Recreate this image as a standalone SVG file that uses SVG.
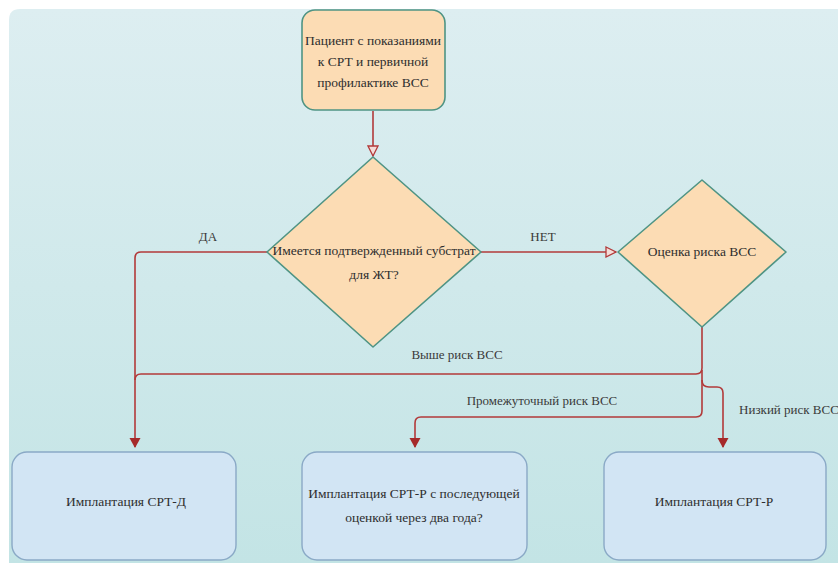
<svg xmlns="http://www.w3.org/2000/svg" width="838" height="563" viewBox="0 0 838 563" font-family="'Liberation Serif', 'Times New Roman', serif">
<defs>
<linearGradient id="bg" x1="0" y1="0" x2="0" y2="1">
<stop offset="0" stop-color="#ddeef1"/>
<stop offset="1" stop-color="#c3e4e5"/>
</linearGradient>
<marker id="open" viewBox="0 0 12 12" refX="11" refY="6" markerWidth="12" markerHeight="12" markerUnits="userSpaceOnUse" orient="auto">
<path d="M1,1 L11,6 L1,11 Z" fill="#f4dcd8" stroke="#b23a3a" stroke-width="1.3"/>
</marker>
<marker id="fill" viewBox="0 0 10 12" refX="9" refY="6" markerWidth="10" markerHeight="12" markerUnits="userSpaceOnUse" orient="auto">
<path d="M0,0.5 L10,6 L0,11.5 Z" fill="#a52a2a"/>
</marker>
</defs>
<style>
text{font-family:'Liberation Serif','Times New Roman',serif}
.t{font-size:13.5px;fill:#2e2e2e;text-anchor:middle}
.l{font-size:13px;fill:#3a3a3a;text-anchor:middle}
.peach{fill:#fcdcb4;stroke:#4f9484;stroke-width:1.6}
.blue{fill:#d2e5f4;stroke:#8aa9c6;stroke-width:1.4}
.c{fill:none;stroke:#b23a3a;stroke-width:1.6}
</style>
<rect x="0" y="0" width="838" height="563" fill="#ffffff"/>
<path d="M20,9 H838 V563 H9 V20 Q9,9 20,9 Z" fill="url(#bg)"/>

<g id="connectors">
<path class="c" d="M373,111 V156" marker-end="url(#open)"/>
<path class="c" d="M267,252 H141 Q135,252 135,258 V447" marker-end="url(#fill)"/>
<path class="c" d="M481,252 H616" marker-end="url(#open)"/>
<path class="c" d="M702,327 V368 Q702,374 696,374 H141 Q135,374 135,380"/>
<path class="c" d="M702,370 V411 Q702,417 696,417 H421 Q415,417 415,423 V447" marker-end="url(#fill)"/>
<path class="c" d="M702,380 Q702,387 709,387 H717 Q723,387 723,393 V447" marker-end="url(#fill)"/>
<text class="l" x="208" y="241">ДА</text>
<text class="l" x="543" y="241">НЕТ</text>
<text class="l" x="457" y="359">Выше риск ВСС</text>
<text class="l" x="542" y="405">Промежуточный риск ВСС</text>
<text class="l" x="789" y="414">Низкий риск ВСС</text>
</g>

<g id="start">
<rect class="peach" x="302" y="10" width="143" height="100" rx="13"/>
<text class="t" x="373" y="45">Пациент с показаниями</text>
<text class="t" x="373" y="66">к СРТ и первичной</text>
<text class="t" x="373" y="87">профилактике ВСС</text>
</g>

<g id="substrate">
<path class="peach" d="M373,157 L481,252 L373,347 L267,252 Z" stroke-linejoin="round"/>
<text class="t" x="374" y="255">Имеется подтвержденный субстрат</text>
<text class="t" x="374" y="279">для ЖТ?</text>
</g>

<g id="risk">
<path class="peach" d="M702,180 L786,252 L702,327 L618,252 Z" stroke-linejoin="round"/>
<text class="t" x="702" y="256">Оценка риска ВСС</text>
</g>

<g id="crtd">
<rect class="blue" x="12" y="452" width="224" height="108" rx="15"/>
<text class="t" x="126" y="506">Имплантация СРТ-Д</text>
</g>

<g id="crtp2">
<rect class="blue" x="302" y="452" width="225" height="108" rx="15"/>
<text class="t" x="414" y="498">Имплантация СРТ-Р с последующей</text>
<text class="t" x="414" y="522">оценкой через два года?</text>
</g>

<g id="crtp">
<rect class="blue" x="604" y="452" width="222" height="108" rx="15"/>
<text class="t" x="714" y="506">Имплантация СРТ-Р</text>
</g>
</svg>
